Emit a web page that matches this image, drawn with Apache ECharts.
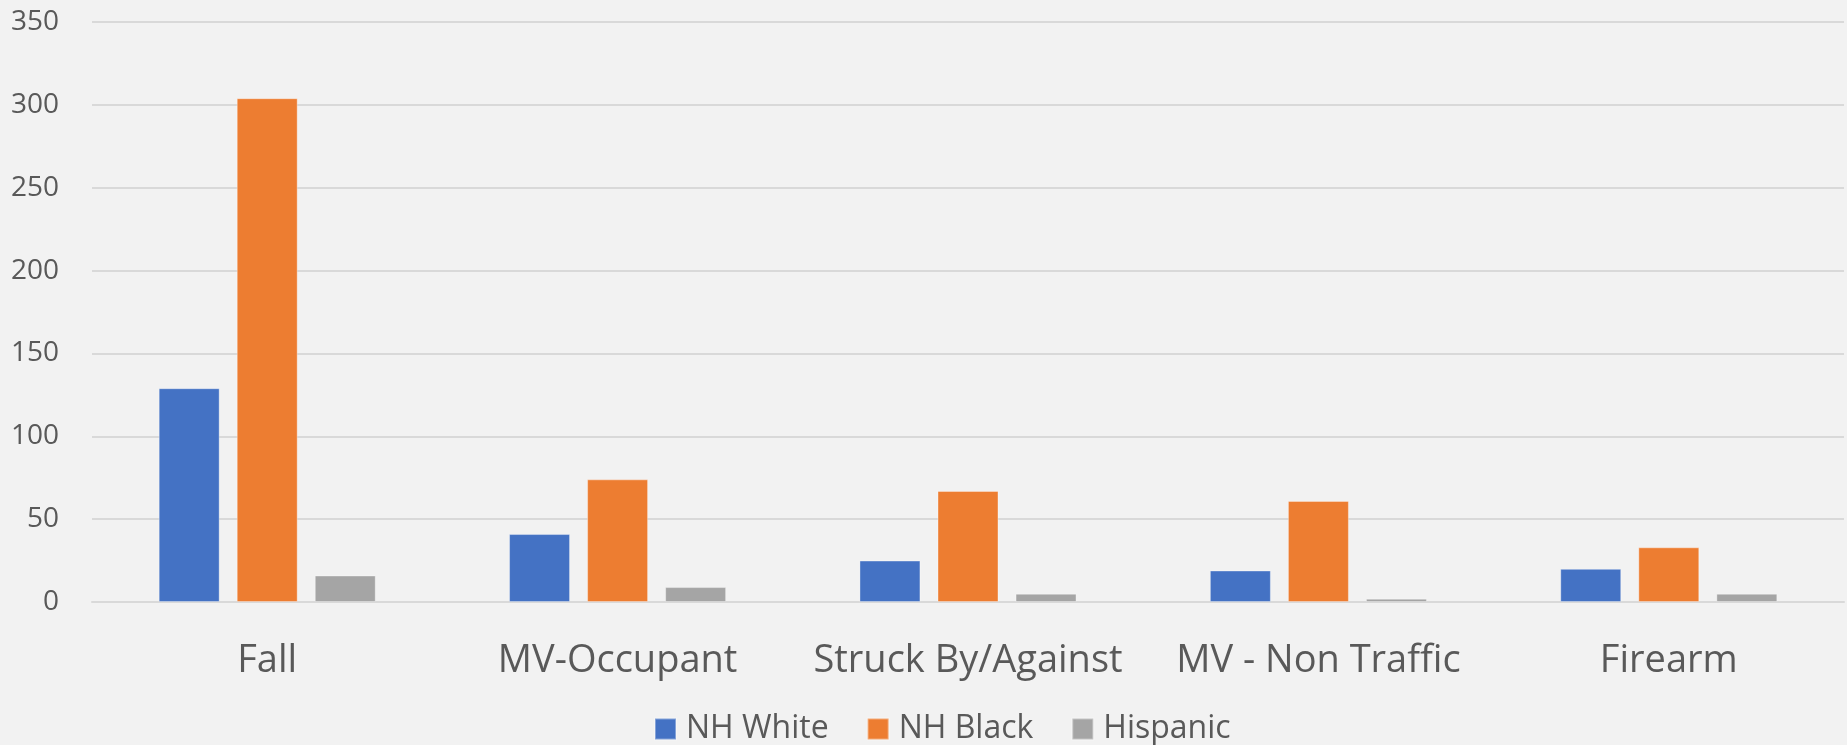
<!DOCTYPE html>
<html>
<head>
<meta charset="utf-8">
<script src="https://cdn.jsdelivr.net/npm/echarts@6/dist/echarts.min.js"></script>
<style>
html,body{margin:0;padding:0;background:#F2F2F2;}
#chart{width:1847px;height:745px;}
</style>
</head>
<body>
<div id="chart"></div>
<script>
const categories = ['Fall', 'MV-Occupant', 'Struck By/Against', 'MV - Non Traffic', 'Firearm'];
const seriesNames = ['NH White', 'NH Black', 'Hispanic'];
const nhWhite = [129, 41, 25, 19, 20];
const nhBlack = [304, 74, 67, 61, 33];
const hispanic = [16, 9, 5, 2, 5];
const yTicks = [0, 50, 100, 150, 200, 250, 300, 350];
const colors = ['#4472C4', '#ED7D31', '#A5A5A5'];

const chart = echarts.init(document.getElementById('chart'), null, {renderer: 'canvas'});
const font = '"Open Sans", "Noto Sans", sans-serif';
const mk = (name, data, i) => ({
  name: name,
  type: 'bar',
  data: data,
  barWidth: '17.4%',
  barGap: '28%',
  itemStyle: {color: colors[i], borderColor: 'rgba(255,255,255,0.35)', borderWidth: 1},
  emphasis: {disabled: true}
});
chart.setOption({
  backgroundColor: '#F2F2F2',
  animation: false,
  textStyle: {fontFamily: font},
  grid: {left: 92, right: 3, top: 22, bottom: 143, containLabel: false},
  legend: {
    left: 654,
    top: 712,
    padding: 0,
    itemWidth: 21,
    itemHeight: 21,
    itemGap: 38,
    icon: 'rect',
    textStyle: {color: '#595959', fontSize: 32, lineHeight: 34, fontFamily: font, padding: [0, 0, 0, 5]},
    data: seriesNames
  },
  xAxis: {
    type: 'category',
    data: categories,
    axisLine: {show: true, lineStyle: {color: '#D9D9D9', width: 2}},
    axisTick: {show: false},
    axisLabel: {color: '#595959', fontSize: 38, fontFamily: font, margin: 40, lineHeight: 38, interval: 0}
  },
  yAxis: {
    type: 'value',
    min: yTicks[0],
    max: yTicks[yTicks.length - 1],
    interval: 50,
    axisLine: {show: false},
    axisTick: {show: false},
    splitLine: {lineStyle: {color: '#D9D9D9', width: 2}},
    axisLabel: {color: '#595959', fontSize: 28, fontFamily: font, margin: 33}
  },
  series: [mk(seriesNames[0], nhWhite, 0), mk(seriesNames[1], nhBlack, 1), mk(seriesNames[2], hispanic, 2)]
});
</script>
</body>
</html>
